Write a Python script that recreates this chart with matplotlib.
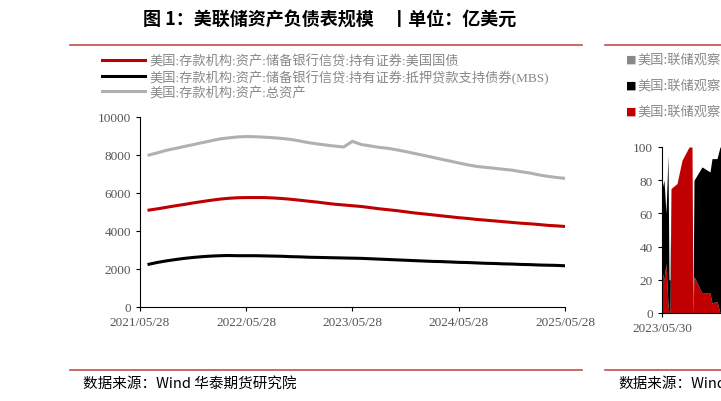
import matplotlib
matplotlib.use("Agg")
import matplotlib.pyplot as plt
import pandas as pd

plt.rcParams['font.family'] = ['Liberation Serif', 'Noto Sans CJK SC', 'DejaVu Sans']

dates = pd.date_range("2021-05-28", periods=49, freq="MS") + pd.Timedelta(days=27)
total = [8000, 8120, 8250, 8350, 8450, 8550, 8650, 8750, 8850, 8900, 8950, 8970,
         8960, 8940, 8910, 8870, 8820, 8740, 8650, 8580, 8520, 8470, 8420, 8720,
         8550, 8480, 8400, 8350, 8270, 8180, 8080, 7980, 7880, 7780, 7680, 7580,
         7480, 7400, 7350, 7300, 7250, 7200, 7120, 7050, 6950, 6880, 6820, 6770, 6720]
treasury = [5100, 5170, 5250, 5330, 5400, 5480, 5550, 5620, 5680, 5720, 5750, 5760,
            5760, 5760, 5740, 5710, 5670, 5620, 5570, 5520, 5460, 5410, 5370, 5330,
            5290, 5230, 5170, 5120, 5070, 5010, 4950, 4900, 4850, 4800, 4750, 4700,
            4660, 4610, 4570, 4530, 4490, 4450, 4410, 4380, 4340, 4300, 4270, 4240, 4220]
mbs = [2250, 2350, 2430, 2500, 2560, 2610, 2650, 2680, 2700, 2710, 2700, 2700,
       2700, 2690, 2680, 2670, 2650, 2640, 2620, 2610, 2600, 2590, 2580, 2570,
       2560, 2540, 2520, 2500, 2480, 2460, 2440, 2420, 2400, 2390, 2370, 2350,
       2340, 2320, 2300, 2290, 2270, 2260, 2240, 2230, 2210, 2200, 2190, 2170, 2160]
labels = ["美国:存款机构:资产:储备银行信贷:持有证券:美国国债",
          "美国:存款机构:资产:储备银行信贷:持有证券:抵押贷款支持债券(MBS)",
          "美国:存款机构:资产:总资产"]
xticks = ["2021/05/28", "2022/05/28", "2023/05/28", "2024/05/28", "2025/05/28"]

# right chart (partially visible)
r_x = [0, 2, 4, 6, 7, 8, 9, 15, 20, 27, 30, 31, 32, 40, 48, 50, 55, 58, 59]
r_red = [25, 20, 30, 5, 0, 0, 75, 78, 92, 100, 100, 0, 22, 12, 12, 6, 7, 0, 0]
r_top = [75, 80, 60, 95, 20, 20, 75, 78, 92, 100, 100, 0, 80, 88, 85, 93, 93, 100, 100]

W, H = 721, 402
fig = plt.figure(figsize=(W/100, H/100), dpi=100)

def fx(p): return p / W
def fy(p): return 1 - p / H

fig.text(fx(330), fy(19), "图 1：美联储资产负债表规模    丨单位：亿美元", ha="center", va="center",
         fontsize=13, fontweight="bold", family=['Noto Sans CJK SC'])
for x0, x1 in [(70, 582), (605, 721)]:
    fig.add_artist(plt.Line2D([fx(x0), fx(x1)], [fy(46)]*2, color="#c0504d", lw=1.2))
    fig.add_artist(plt.Line2D([fx(x0), fx(x1)], [fy(371)]*2, color="#c0504d", lw=1.2))
fig.text(fx(83), fy(384), "数据来源：Wind 华泰期货研究院", va="center", fontsize=10.5,
         family=['Noto Sans CJK SC'])
fig.text(fx(618), fy(384), "数据来源：Wind", va="center", fontsize=10.5, family=['Noto Sans CJK SC'])
fig.text(fx(714), fy(19), "丨", ha="left", va="center", fontsize=13, fontweight="bold",
         family=['Noto Sans CJK SC'])

ax = fig.add_axes([fx(140), fy(308), fx(565-140), (308-118)/H])
ax.plot(dates, treasury, color="#c00000", lw=2.2, label=labels[0])
ax.plot(dates, mbs, color="black", lw=2.2, label=labels[1])
ax.plot(dates, total, color="#b0b0b0", lw=2.2, label=labels[2])
ax.set_ylim(0, 10000)
ax.set_yticks(range(0, 10001, 2000))
tick_dates = pd.to_datetime(xticks, format="%Y/%m/%d")
ax.set_xlim(tick_dates[0], tick_dates[-1])
ax.set_xticks(tick_dates)
ax.set_xticklabels(xticks)
for s in ["top", "right"]:
    ax.spines[s].set_visible(False)
ax.tick_params(labelsize=9.5, labelcolor="#555555", length=3, direction="out")
leg = ax.legend(loc="upper left", bbox_to_anchor=(fx(95), fy(49)), bbox_transform=fig.transFigure,
                frameon=False, handlelength=3.3, labelspacing=0.12, borderpad=0,
                handletextpad=0.3, prop={'family': ['Liberation Serif', 'Noto Sans CJK SC'], 'size': 9.5})
for t in leg.get_texts():
    t.set_color("#888888")

ax2 = fig.add_axes([fx(662), fy(314), 300/W, (314-148)/H])
ax2.fill_between(r_x, 0, r_red, color="#c00000", lw=0)
ax2.fill_between(r_x, r_red, r_top, color="black", lw=0)
ax2.set_xlim(0, 300)
ax2.set_ylim(0, 100)
ax2.set_yticks(range(0, 101, 20))
ax2.set_xticks([0])
ax2.set_xticklabels(["2023/05/30"])
for s in ["top", "right"]:
    ax2.spines[s].set_visible(False)
ax2.tick_params(labelsize=9.5, labelcolor="#555555", length=3)
for c, yy in [("#888888", 60), ("black", 86), ("#c00000", 112)]:
    fig.text(fx(626), fy(yy), "■", color=c, fontsize=8, va="center", family=['DejaVu Sans'])
    fig.text(fx(637), fy(yy), "美国:联储观察", color="#888888", fontsize=9.5, va="center",
             family=['Noto Sans CJK SC'])

fig.savefig("out.png", dpi=100)
